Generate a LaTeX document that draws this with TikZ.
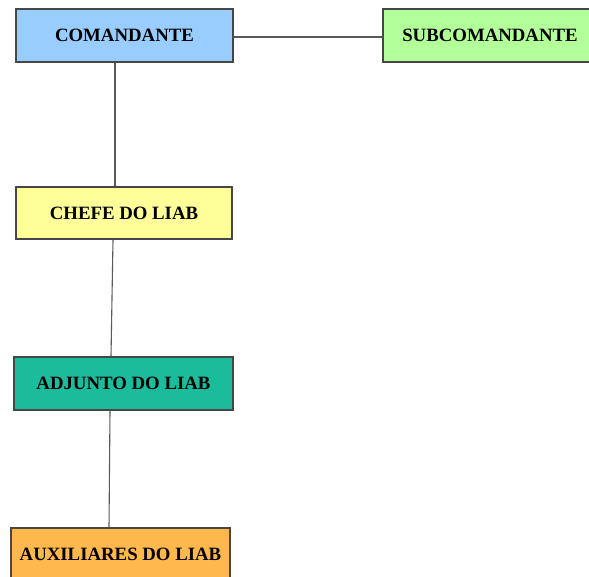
\documentclass[tikz,border=0pt]{standalone}
\usepackage{fontspec}
\setmainfont{Liberation Serif}
\definecolor{cmdblue}{RGB}{153, 204, 255}
\definecolor{subgreen}{RGB}{179, 255, 153}
\definecolor{chefyellow}{RGB}{255, 255, 153}
\definecolor{adjteal}{RGB}{26, 188, 156}
\definecolor{auxorange}{RGB}{255, 184, 77}
\definecolor{edgegray}{RGB}{70, 70, 70}
\usetikzlibrary{positioning}

\begin{document}
\begin{tikzpicture}[x=1pt, y=-1pt,
    rank/.style={draw=edgegray, line width=1.1pt, minimum height=53pt, inner sep=0pt,
      font=\fontsize{18.8}{22}\selectfont\bfseries},
    link/.style={draw=edgegray!90, line width=1.1pt}]
  \useasboundingbox (0, 0) rectangle (589, 576);

  % Top level
  \node[rank, fill=cmdblue, minimum width=217pt] (cmd) at (124.5, 35.5) {COMANDANTE};
  \node[rank, fill=subgreen, minimum width=214pt] (sub) at (490, 35.5) {SUBCOMANDANTE};

  % LIAB chain
  \node[rank, fill=chefyellow, minimum width=216pt, minimum height=52pt] (chefe) at (124, 213) {CHEFE DO LIAB};
  \node[rank, fill=adjteal, minimum width=219pt] (adj) at (123.5, 383.5) {ADJUNTO DO LIAB};
  \node[rank, fill=auxorange, minimum width=219pt] (aux) at (120.5, 554.5) {AUXILIARES DO LIAB};

  % Connectors
  \draw[link] ([yshift=-1.5pt]cmd.east) -- ([yshift=-1.5pt]sub.west);
  \draw[link] ([xshift=-9.5pt]cmd.south) -- ([xshift=-9pt]chefe.north);
  \draw[link] ([xshift=-11pt]chefe.south) -- ([xshift=-12.5pt]adj.north);
  \draw[link] ([xshift=-13.5pt]adj.south) -- ([xshift=-11.5pt]aux.north);
\end{tikzpicture}
\end{document}
